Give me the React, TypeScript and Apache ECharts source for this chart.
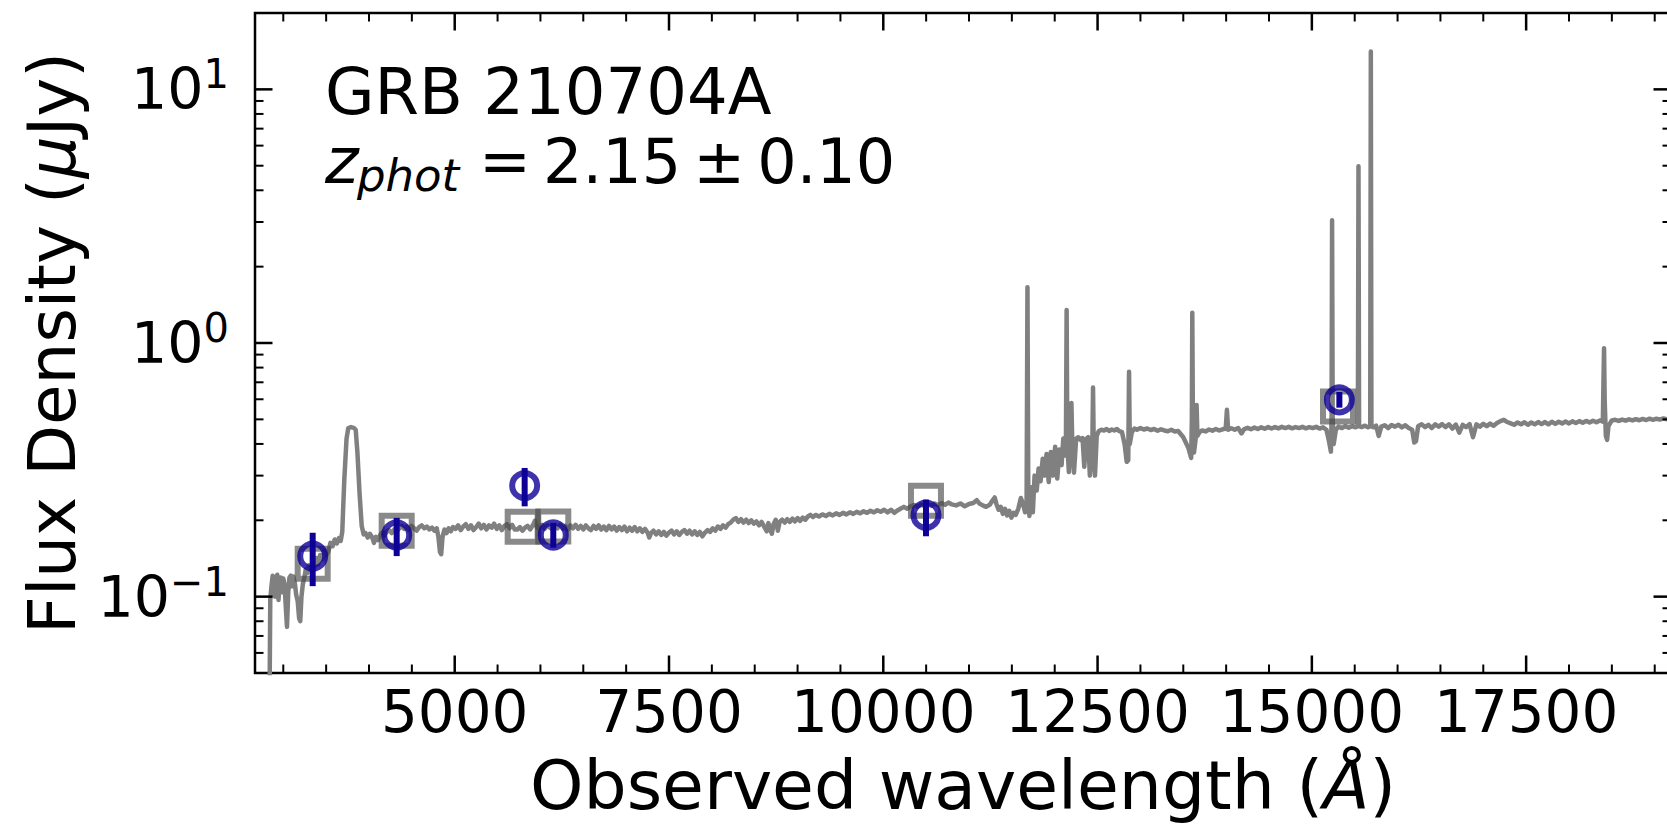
import React, { useEffect, useRef } from "react";
import * as echarts from "echarts";

// ---- axis ranges & ticks ----
const X_MIN = 2670;
const X_MAX = 19190;
const Y_MIN = 0.05;
const Y_MAX = 20;
const xTickLabels = [5000, 7500, 10000, 12500, 15000, 17500];
const xMinorTicks = [3000, 3500, 4000, 4500, 5500, 6000, 6500, 7000, 8000, 8500, 9000, 9500, 10500, 11000, 11500, 12000, 13000, 13500, 14000, 14500, 15500, 16000, 16500, 17000, 18000, 18500, 19000];
const yMajorTicks = [0.1, 1, 10];
const yMinorTicks = [0.06, 0.07, 0.08, 0.09, 0.2, 0.3, 0.4, 0.5, 0.6, 0.7, 0.8, 0.9, 2, 3, 4, 5, 6, 7, 8, 9];

// ---- photometry (blue circles with error bars) ----
const photWave = [3343, 4323, 5816, 6150, 10498, 15321];
const photFlux = [0.1445, 0.175, 0.274, 0.175, 0.2094, 0.597];
const photLow = [0.110, 0.1445, 0.227, 0.156, 0.173, 0.556];
const photHigh = [0.1786, 0.2045, 0.3216, 0.1954, 0.2413, 0.641];

// ---- model photometry (grey squares) ----
const modelWave = [3343, 4323, 5793, 6150, 10498, 15305];
const modelFlux = [0.1348, 0.182, 0.1885, 0.189, 0.239, 0.5617];

// ---- model spectrum [wavelength (Å), flux (µJy)] ----
const spectrum = [
  [2840, 0.040], [2848, 0.097], [2862, 0.110], [2876, 0.121], [2890, 0.117], [2903, 0.100], [2916, 0.118], [2930, 0.122], [2944, 0.097], [2958, 0.116],
  [2972, 0.119], [2986, 0.104], [3000, 0.118], [3015, 0.112], [3030, 0.090], [3043, 0.076], [3058, 0.104], [3072, 0.119], [3088, 0.121], [3102, 0.110],
  [3118, 0.120], [3135, 0.113], [3150, 0.102], [3168, 0.096], [3185, 0.082], [3198, 0.080], [3212, 0.100], [3228, 0.112], [3245, 0.118], [3262, 0.128],
  [3280, 0.124], [3298, 0.133], [3318, 0.128], [3340, 0.136], [3362, 0.131], [3385, 0.142], [3408, 0.134], [3430, 0.146], [3455, 0.140], [3478, 0.151],
  [3500, 0.146], [3525, 0.150], [3550, 0.163], [3575, 0.158], [3600, 0.168], [3625, 0.162], [3648, 0.170], [3670, 0.166], [3688, 0.180], [3712, 0.290],
  [3738, 0.420], [3758, 0.462], [3790, 0.466], [3822, 0.463], [3845, 0.455], [3865, 0.370], [3890, 0.255], [3915, 0.190], [3938, 0.176],
  [3960, 0.178], [3985, 0.171], [4010, 0.177], [4035, 0.172], [4058, 0.163], [4080, 0.172], [4105, 0.167], [4130, 0.175], [4155, 0.179], [4180, 0.174],
  [4205, 0.180], [4235, 0.183], [4265, 0.178], [4295, 0.184], [4325, 0.181], [4355, 0.186], [4385, 0.190], [4410, 0.185], [4440, 0.189], [4465, 0.183],
  [4495, 0.190], [4525, 0.186], [4555, 0.182], [4585, 0.188], [4615, 0.191], [4645, 0.186], [4675, 0.189], [4705, 0.184], [4735, 0.187], [4765, 0.182],
  [4790, 0.186], [4810, 0.172], [4828, 0.150], [4842, 0.147], [4858, 0.172], [4880, 0.184], [4905, 0.178], [4930, 0.186], [4955, 0.181], [4980, 0.188],
  [5010, 0.185], [5040, 0.191], [5070, 0.183], [5100, 0.189], [5130, 0.193], [5160, 0.185], [5190, 0.191], [5220, 0.183], [5250, 0.188], [5280, 0.194],
  [5310, 0.186], [5340, 0.192], [5370, 0.184], [5400, 0.191], [5430, 0.187], [5460, 0.194], [5490, 0.185], [5520, 0.191], [5550, 0.183], [5580, 0.190],
  [5610, 0.193], [5640, 0.186], [5670, 0.192], [5700, 0.184], [5730, 0.184], [5760, 0.188], [5790, 0.182], [5820, 0.187], [5850, 0.190], [5880, 0.184],
  [5910, 0.191], [5935, 0.199], [5960, 0.187], [5990, 0.187], [6020, 0.192], [6050, 0.185], [6080, 0.191], [6110, 0.187], [6140, 0.184], [6170, 0.191],
  [6200, 0.186], [6230, 0.192], [6260, 0.185], [6290, 0.190], [6320, 0.184], [6350, 0.191], [6380, 0.186], [6410, 0.192], [6440, 0.185], [6470, 0.190],
  [6500, 0.184], [6530, 0.191], [6560, 0.186], [6590, 0.183], [6620, 0.190], [6650, 0.185], [6680, 0.191], [6710, 0.184], [6740, 0.189], [6770, 0.183],
  [6800, 0.190], [6830, 0.184], [6860, 0.189], [6890, 0.182], [6920, 0.188], [6950, 0.183], [6980, 0.189], [7010, 0.181], [7040, 0.187], [7070, 0.182],
  [7100, 0.188], [7130, 0.181], [7160, 0.186], [7190, 0.180], [7220, 0.185], [7250, 0.179], [7270, 0.171], [7290, 0.178], [7320, 0.182], [7350, 0.176],
  [7380, 0.181], [7410, 0.175], [7440, 0.180], [7470, 0.174], [7500, 0.179], [7530, 0.182], [7560, 0.176], [7590, 0.181], [7620, 0.175], [7650, 0.180],
  [7680, 0.183], [7710, 0.177], [7740, 0.182], [7770, 0.176], [7800, 0.181], [7830, 0.175], [7860, 0.180], [7890, 0.173], [7920, 0.179], [7950, 0.183],
  [7980, 0.180], [8010, 0.186], [8040, 0.182], [8070, 0.189], [8100, 0.185], [8130, 0.191], [8160, 0.187], [8190, 0.193], [8220, 0.196], [8250, 0.201],
  [8280, 0.204], [8310, 0.197], [8340, 0.202], [8370, 0.196], [8400, 0.201], [8430, 0.195], [8460, 0.200], [8490, 0.194], [8520, 0.198], [8550, 0.191],
  [8580, 0.197], [8610, 0.189], [8640, 0.181], [8660, 0.195], [8680, 0.185], [8700, 0.177], [8720, 0.193], [8745, 0.201], [8770, 0.182], [8790, 0.197],
  [8820, 0.201], [8850, 0.196], [8880, 0.202], [8910, 0.197], [8940, 0.203], [8970, 0.198], [9000, 0.204], [9030, 0.199], [9060, 0.205], [9090, 0.201],
  [9120, 0.207], [9150, 0.210], [9180, 0.206], [9210, 0.210], [9250, 0.207], [9290, 0.211], [9330, 0.208], [9370, 0.212], [9410, 0.209], [9450, 0.213],
  [9490, 0.210], [9530, 0.214], [9570, 0.211], [9610, 0.215], [9650, 0.212], [9690, 0.216], [9730, 0.213], [9770, 0.217], [9810, 0.214], [9850, 0.218],
  [9890, 0.215], [9930, 0.219], [9970, 0.216], [10010, 0.220], [10050, 0.215], [10090, 0.220], [10130, 0.214], [10160, 0.218], [10200, 0.222], [10240, 0.226],
  [10280, 0.222], [10320, 0.227], [10360, 0.230], [10400, 0.226], [10440, 0.231], [10480, 0.227], [10520, 0.232], [10560, 0.228], [10600, 0.233], [10640, 0.229],
  [10680, 0.234], [10720, 0.230], [10760, 0.235], [10800, 0.231], [10850, 0.229], [10900, 0.233], [10950, 0.227], [11000, 0.232], [11050, 0.234], [11090, 0.240],
  [11120, 0.233], [11160, 0.229], [11200, 0.226], [11240, 0.230], [11270, 0.238], [11300, 0.246], [11320, 0.232], [11345, 0.220], [11370, 0.226], [11395, 0.212],
  [11420, 0.222], [11445, 0.209], [11470, 0.218], [11495, 0.205], [11520, 0.214], [11545, 0.210], [11575, 0.222], [11605, 0.245], [11630, 0.232], [11655, 0.215],
  [11672, 0.240], [11682, 1.66], [11692, 0.240], [11705, 0.208], [11725, 0.270], [11745, 0.215], [11765, 0.300], [11790, 0.262], [11812, 0.320], [11835, 0.285],
  [11860, 0.350], [11880, 0.300], [11905, 0.365], [11930, 0.283], [11955, 0.372], [11980, 0.300], [12005, 0.390], [12030, 0.292], [12055, 0.380], [12080, 0.330],
  [12100, 0.420], [12120, 0.360], [12131, 0.420], [12139, 1.35], [12147, 0.400], [12165, 0.310], [12185, 0.410], [12195, 0.580], [12205, 0.400], [12225, 0.308],
  [12250, 0.420], [12275, 0.425], [12300, 0.415], [12325, 0.422], [12345, 0.325], [12365, 0.418], [12390, 0.425], [12410, 0.300], [12430, 0.360], [12440, 0.420],
  [12447, 0.667], [12454, 0.420], [12470, 0.300], [12490, 0.430], [12515, 0.450], [12545, 0.455], [12575, 0.452], [12605, 0.458], [12635, 0.450], [12665, 0.456],
  [12695, 0.452], [12725, 0.458], [12755, 0.449], [12785, 0.445], [12815, 0.400], [12840, 0.340], [12858, 0.345], [12867, 0.771], [12876, 0.400], [12900, 0.445],
  [12930, 0.460], [12960, 0.455], [13000, 0.462], [13040, 0.456], [13080, 0.460], [13120, 0.454], [13160, 0.458], [13200, 0.451], [13240, 0.457], [13280, 0.452],
  [13320, 0.449], [13360, 0.455], [13400, 0.448], [13440, 0.450], [13500, 0.425], [13560, 0.385], [13592, 0.352], [13600, 0.500], [13605, 1.316], [13612, 0.500],
  [13625, 0.370], [13645, 0.420], [13655, 0.570], [13665, 0.430], [13690, 0.445], [13720, 0.452], [13760, 0.448], [13800, 0.456], [13840, 0.451], [13880, 0.458],
  [13920, 0.452], [13960, 0.457], [13995, 0.460], [14009, 0.545], [14023, 0.455], [14060, 0.461], [14100, 0.455], [14140, 0.462], [14180, 0.440], [14210, 0.458],
  [14250, 0.463], [14290, 0.457], [14330, 0.464], [14370, 0.458], [14410, 0.465], [14450, 0.459], [14490, 0.466], [14530, 0.460], [14570, 0.466], [14610, 0.461],
  [14650, 0.467], [14690, 0.462], [14730, 0.467], [14770, 0.461], [14810, 0.466], [14850, 0.462], [14890, 0.467], [14930, 0.461], [14970, 0.466], [15010, 0.462],
  [15050, 0.467], [15090, 0.460], [15130, 0.465], [15170, 0.455], [15200, 0.410], [15222, 0.373], [15230, 0.500], [15236, 3.05], [15243, 0.500], [15255, 0.400],
  [15280, 0.455], [15310, 0.468], [15350, 0.462], [15390, 0.470], [15430, 0.463], [15470, 0.470], [15510, 0.465], [15537, 0.470], [15544, 4.97], [15551, 0.470],
  [15580, 0.466], [15620, 0.472], [15655, 0.465], [15681, 0.470], [15688, 14.1], [15695, 0.470], [15720, 0.465], [15750, 0.472], [15780, 0.430], [15810, 0.468],
  [15850, 0.474], [15890, 0.462], [15930, 0.475], [15970, 0.468], [16010, 0.476], [16050, 0.465], [16090, 0.474], [16130, 0.462], [16170, 0.455], [16195, 0.405],
  [16215, 0.410], [16240, 0.470], [16280, 0.478], [16320, 0.466], [16360, 0.476], [16400, 0.462], [16440, 0.478], [16480, 0.468], [16520, 0.479], [16560, 0.466],
  [16600, 0.478], [16640, 0.460], [16680, 0.477], [16720, 0.443], [16760, 0.476], [16800, 0.466], [16840, 0.479], [16880, 0.425], [16920, 0.478], [16960, 0.468],
  [17000, 0.480], [17040, 0.470], [17080, 0.481], [17120, 0.472], [17160, 0.484], [17200, 0.492], [17240, 0.498], [17280, 0.488], [17320, 0.482], [17360, 0.476],
  [17400, 0.486], [17440, 0.478], [17480, 0.487], [17520, 0.476], [17560, 0.486], [17600, 0.478], [17640, 0.488], [17680, 0.479], [17720, 0.488], [17760, 0.478],
  [17800, 0.489], [17840, 0.480], [17880, 0.489], [17920, 0.482], [17960, 0.490], [18000, 0.482], [18040, 0.491], [18080, 0.484], [18120, 0.492], [18160, 0.485],
  [18200, 0.493], [18240, 0.486], [18280, 0.494], [18320, 0.487], [18360, 0.495], [18395, 0.490], [18402, 0.700], [18409, 0.953], [18416, 0.600], [18430, 0.430],
  [18445, 0.415], [18460, 0.470], [18500, 0.495], [18540, 0.498], [18580, 0.493], [18620, 0.499], [18660, 0.494], [18700, 0.500], [18740, 0.495], [18780, 0.501],
  [18820, 0.496], [18860, 0.502], [18900, 0.497], [18940, 0.503], [18980, 0.498], [19020, 0.503], [19060, 0.499], [19100, 0.504], [19150, 0.500], [19190, 0.503],
];

const FONT = "DejaVu Sans";
const BLUE = "#0e0096";
const GREY_LINE = "#808080";

function tickSeries(values: number[], kind: "x" | "y", len: number, width: number) {
  return {
    type: "custom",
    coordinateSystem: "cartesian2d",
    silent: true,
    z: 10,
    data: values.map((v) => (kind === "x" ? [v, Y_MIN] : [X_MIN, v])),
    renderItem: (params: any, api: any) => {
      const cs = params.coordSys;
      const p = api.coord([api.value(0), api.value(1)]);
      const style = { stroke: "#000", lineWidth: width };
      if (kind === "x") {
        const yb = cs.y + cs.height;
        return {
          type: "group",
          children: [
            { type: "line", shape: { x1: p[0], y1: yb, x2: p[0], y2: yb - len }, style },
            { type: "line", shape: { x1: p[0], y1: cs.y, x2: p[0], y2: cs.y + len }, style },
          ],
        };
      }
      const xr = cs.x + cs.width;
      return {
        type: "group",
        children: [
          { type: "line", shape: { x1: cs.x, y1: p[1], x2: cs.x + len, y2: p[1] }, style },
          { type: "line", shape: { x1: xr - len, y1: p[1], x2: xr, y2: p[1] }, style },
        ],
      };
    },
  };
}

export default function App() {
  const ref = useRef<HTMLDivElement>(null);

  useEffect(() => {
    if (!ref.current) return;
    const chart = echarts.init(ref.current, undefined, { renderer: "svg" });

    const mathFont = 62;
    const sp = 0.195 * mathFont;
    const eqX = 479;
    const num1X = eqX + 0.838 * mathFont + sp;
    const pmX = num1X + 2.226 * mathFont + sp;
    const num2X = pmX + 0.838 * mathFont + sp;

    const option: any = {
      animation: false,
      backgroundColor: "#ffffff",
      grid: {
        left: 255,
        top: 13,
        right: 1,
        bottom: 163,
        show: true,
        borderColor: "#000",
        borderWidth: 2.5,
        backgroundColor: "transparent",
        containLabel: false,
        outerBoundsMode: "none",
      },
      xAxis: {
        type: "value",
        min: X_MIN,
        max: X_MAX,
        axisLine: { show: false },
        axisTick: { show: false },
        splitLine: { show: false },
        axisLabel: {
          customValues: xTickLabels,
          formatter: (v: number) => String(Math.round(v)),
          fontSize: 58,
          fontFamily: FONT,
          color: "#000",
          margin: 10,
        },
        name: "Observed wavelength ({i|Å})",
        nameLocation: "middle",
        nameGap: 78,
        nameTextStyle: {
          fontSize: 68,
          fontFamily: FONT,
          color: "#000",
          rich: { i: { fontSize: 68, fontFamily: FONT, fontStyle: "italic", color: "#000" } },
        },
      },
      yAxis: {
        type: "log",
        logBase: 10,
        min: Y_MIN,
        max: Y_MAX,
        axisLine: { show: false },
        axisTick: { show: false },
        splitLine: { show: false },
        minorTick: { show: false },
        axisLabel: {
          margin: 26,
          formatter: (v: number) => {
            const e = Math.round(Math.log10(v));
            if (Math.abs(v / Math.pow(10, e) - 1) > 1e-6) return "";
            const ex = e < 0 ? "\u2212" + -e : String(e);
            return `{b|10}{s|${ex}}`;
          },
          rich: {
            b: { fontSize: 57, lineHeight: 70, fontFamily: FONT, color: "#000" },
            s: { fontSize: 40, lineHeight: 40, fontFamily: FONT, color: "#000", verticalAlign: "top" },
          },
        },
        name: "Flux Density ({i|μ}Jy)",
        nameLocation: "middle",
        nameRotate: 90,
        nameGap: 170,
        nameTextStyle: {
          fontSize: 66,
          fontFamily: FONT,
          color: "#000",
          rich: { i: { fontSize: 66, fontFamily: FONT, fontStyle: "italic", color: "#000" } },
        },
      },
      graphic: [
        { type: "text", x: 325, y: 91.5, style: { text: "GRB 210704A", fontSize: 64, fontFamily: FONT, fill: "#000", align: "left", verticalAlign: "middle" } },
        { type: "text", x: 325, y: 161, style: { text: "z", fontSize: 64, fontFamily: FONT, fontStyle: "italic", fill: "#000", align: "left", verticalAlign: "middle" } },
        { type: "text", x: 357, y: 175, style: { text: "phot", fontSize: 45, fontFamily: FONT, fontStyle: "italic", fill: "#000", align: "left", verticalAlign: "middle" } },
        { type: "text", x: eqX, y: 161, style: { text: "=", fontSize: mathFont, fontFamily: FONT, fill: "#000", align: "left", verticalAlign: "middle" } },
        { type: "text", x: num1X, y: 161, style: { text: "2.15", fontSize: mathFont, fontFamily: FONT, fill: "#000", align: "left", verticalAlign: "middle" } },
        { type: "text", x: pmX, y: 161, style: { text: "±", fontSize: mathFont, fontFamily: FONT, fill: "#000", align: "left", verticalAlign: "middle" } },
        { type: "text", x: num2X, y: 161, style: { text: "0.10", fontSize: mathFont, fontFamily: FONT, fill: "#000", align: "left", verticalAlign: "middle" } },
      ],
      series: [
        {
          type: "line",
          data: spectrum,
          showSymbol: false,
          symbol: "none",
          clip: true,
          z: 2,
          lineStyle: { color: GREY_LINE, width: 4.5, join: "round", cap: "round" },
        },
        {
          type: "scatter",
          data: modelWave.map((w, i) => [w, modelFlux[i]]),
          symbol: "rect",
          symbolSize: 30,
          z: 3,
          itemStyle: { color: "rgba(0,0,0,0)", borderColor: "rgba(72,72,72,0.8)", borderWidth: 6 },
        },
        {
          type: "custom",
          coordinateSystem: "cartesian2d",
          z: 4,
          data: photWave.map((w, i) => [w, photLow[i], photHigh[i]]),
          renderItem: (_params: any, api: any) => {
            const p1 = api.coord([api.value(0), api.value(1)]);
            const p2 = api.coord([api.value(0), api.value(2)]);
            return {
              type: "line",
              shape: { x1: p1[0], y1: p1[1], x2: p2[0], y2: p2[1] },
              style: { stroke: BLUE, lineWidth: 6 },
            };
          },
        },
        {
          type: "scatter",
          data: photWave.map((w, i) => [w, photFlux[i]]),
          symbol: "circle",
          symbolSize: 25,
          z: 5,
          itemStyle: { color: "rgba(0,0,0,0)", borderColor: BLUE, borderWidth: 6 },
        },
        tickSeries(xTickLabels, "x", 17.5, 2.5),
        tickSeries(xMinorTicks, "x", 8.5, 2),
        tickSeries(yMajorTicks, "y", 17.5, 2.5),
        tickSeries(yMinorTicks, "y", 8.5, 2),
      ],
    };

    chart.setOption(option);
    return () => chart.dispose();
  }, []);

  return (
    <div style={{ position: "fixed", left: 0, top: 0, width: 1667, height: 836, overflow: "hidden", background: "#fff" }}>
      <div ref={ref} style={{ width: 1672, height: 836 }} />
    </div>
  );
}
